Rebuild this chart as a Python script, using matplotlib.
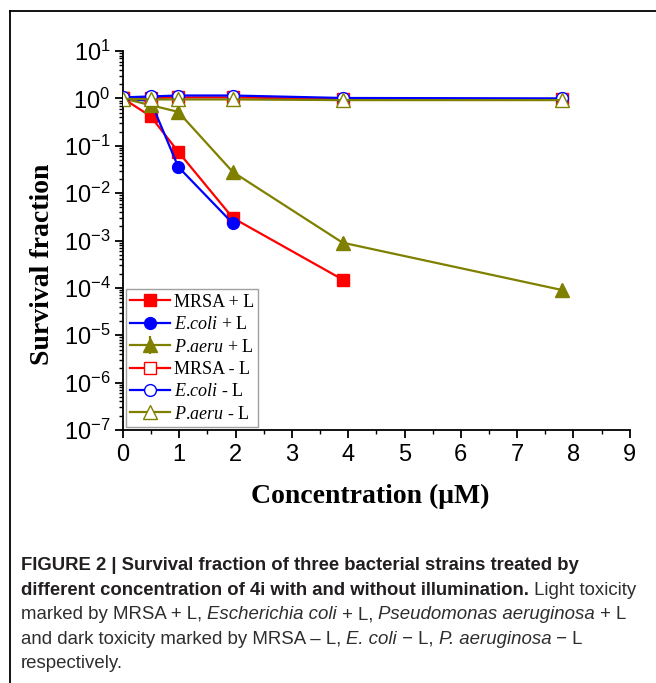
import matplotlib
matplotlib.use("Agg")
import matplotlib.pyplot as plt
from matplotlib.lines import Line2D
from matplotlib.text import Annotation
from matplotlib.ticker import LogLocator

# ------------------- Data: ------------------------------------------------
conc = [0, 0.49, 0.98, 1.95, 3.9, 7.8]

mrsa_light = [1.0, 0.42, 0.075, 0.003, 1.5e-4]
ecoli_light = [1.0, 0.88, 0.036, 0.0023]
paeru_light = [1.0, 0.72, 0.52, 0.028, 9e-4, 9e-5]
paeru_light_err = [0.05, 0.08, 0.12, 0.008, 3e-4, 3e-5]

mrsa_dark = [1.0, 1.02, 1.05, 1.05, 0.97, 0.96]
ecoli_dark = [1.05, 1.1, 1.15, 1.15, 1.02, 1.0]
paeru_dark = [0.98, 0.95, 0.95, 0.95, 0.92, 0.92]

labels = ["MRSA + L", r"$\mathit{E}$.$\mathit{coli}$ + L", r"$\mathit{P}$.$\mathit{aeru}$ + L",
          "MRSA - L", r"$\mathit{E}$.$\mathit{coli}$ - L", r"$\mathit{P}$.$\mathit{aeru}$ - L"]

RED = "#ff0000"
BLUE = "#0000ff"
OLIVE = "#808000"

plt.rcParams["mathtext.fontset"] = "custom"
plt.rcParams["mathtext.rm"] = "Liberation Sans"
plt.rcParams["mathtext.it"] = "Liberation Serif:italic"

fig = plt.figure(figsize=(6.56, 6.83), dpi=100)
ax = fig.add_axes([0.1875, 0.3704, 0.7725, 0.5549])

ms = 8.5
lw = 1.6
h1, = ax.plot(conc[:5], mrsa_light, "-s", color=RED, ms=ms, lw=lw)
h2, = ax.plot(conc[:4], ecoli_light, "-o", color=BLUE, ms=ms, lw=lw)
h3 = ax.errorbar(conc, paeru_light, yerr=paeru_light_err, fmt="-^", color=OLIVE,
                 ms=ms + 1, lw=lw, capsize=0)
h4, = ax.plot(conc, mrsa_dark, "-s", color=RED, ms=ms, lw=lw, mfc="white", zorder=3)
h5, = ax.plot(conc, ecoli_dark, "-o", color=BLUE, ms=ms, lw=lw, mfc="white", zorder=3)
h6, = ax.plot(conc, paeru_dark, "-^", color=OLIVE, ms=ms + 1, lw=lw, mfc="white", zorder=3)

ax.set_yscale("log")
ax.set_ylim(1e-7, 10)
ax.yaxis.set_major_locator(LogLocator(base=10, numticks=20))
ax.yaxis.set_minor_locator(LogLocator(base=10, subs=range(2, 10), numticks=20))
ax.set_xlim(0, 9)
ax.set_xticks(range(10))
ax.set_xticks([i + 0.5 for i in range(9)], minor=True)

for s in ["top", "right"]:
    ax.spines[s].set_visible(False)
for s in ["left", "bottom"]:
    ax.spines[s].set_linewidth(1.3)

ax.tick_params(which="major", direction="out", length=6, width=1.3,
               labelsize=17, labelfontfamily="Liberation Sans")
ax.tick_params(which="minor", direction="out", length=3, width=1)
ax.tick_params(axis="x", pad=4)
ax.tick_params(axis="y", pad=3)

ax.set_xlabel("Concentration (μM)", fontsize=20, fontweight="bold",
              family="Liberation Serif")
ax.xaxis.set_label_coords(0.487, -0.142)
ax.set_ylabel("Survival fraction", fontsize=20, fontweight="bold",
              family="Liberation Serif")
ax.yaxis.set_label_coords(-0.134, 0.438)

leg = ax.legend([h1, h2, h3, h4, h5, h6], labels, loc="lower left",
                prop={"family": "Liberation Serif", "size": 13},
                frameon=True, fancybox=False, edgecolor="#888888",
                handlelength=2.2, borderaxespad=0.15, labelspacing=0.3,
                handletextpad=0.2, borderpad=0.25)
leg.get_frame().set_linewidth(1.0)

# outer frame of the figure panel
fig.add_artist(Line2D([10 / 656, 1], [1 - 11 / 683] * 2, color="black", lw=1.3,
                      transform=fig.transFigure))
fig.add_artist(Line2D([10 / 656] * 2, [0, 1 - 11 / 683], color="black", lw=1.3,
                      transform=fig.transFigure))

# ------------------- Caption: --------------------------------------------
x0 = 21 / 656
B = dict(fontsize=13.3, family="Liberation Sans", color="#231f20", fontweight="bold")
R = dict(fontsize=13.4, family="Liberation Sans", color="#2e2e2e")
I = dict(R, style="italic")


def line(y, parts):
    yb = 1 - y / 683
    prev = fig.text(x0, yb, parts[0][0], va="baseline", **parts[0][1])
    for txt, kw in parts[1:]:
        prev = fig.add_artist(Annotation(
            txt, xy=(1, yb), xycoords=(prev, "figure fraction"),
            va="baseline", ha="left", **kw))


line(570, [("FIGURE 2 | Survival fraction of three bacterial strains treated by", B)])
line(595, [("different concentration of 4i with and without illumination.", B),
           (" Light toxicity", R)])
line(619, [("marked by MRSA + L, ", R), ("Escherichia coli", I), (" + L, ", R),
           ("Pseudomonas aeruginosa", I), (" + L", R)])
line(644, [("and dark toxicity marked by MRSA – L, ", R), ("E. coli", I), (" − L, ", R),
           ("P. aeruginosa", I), (" − L", R)])
line(668, [("respectively.", R)])

fig.savefig("out.png", dpi=100)
